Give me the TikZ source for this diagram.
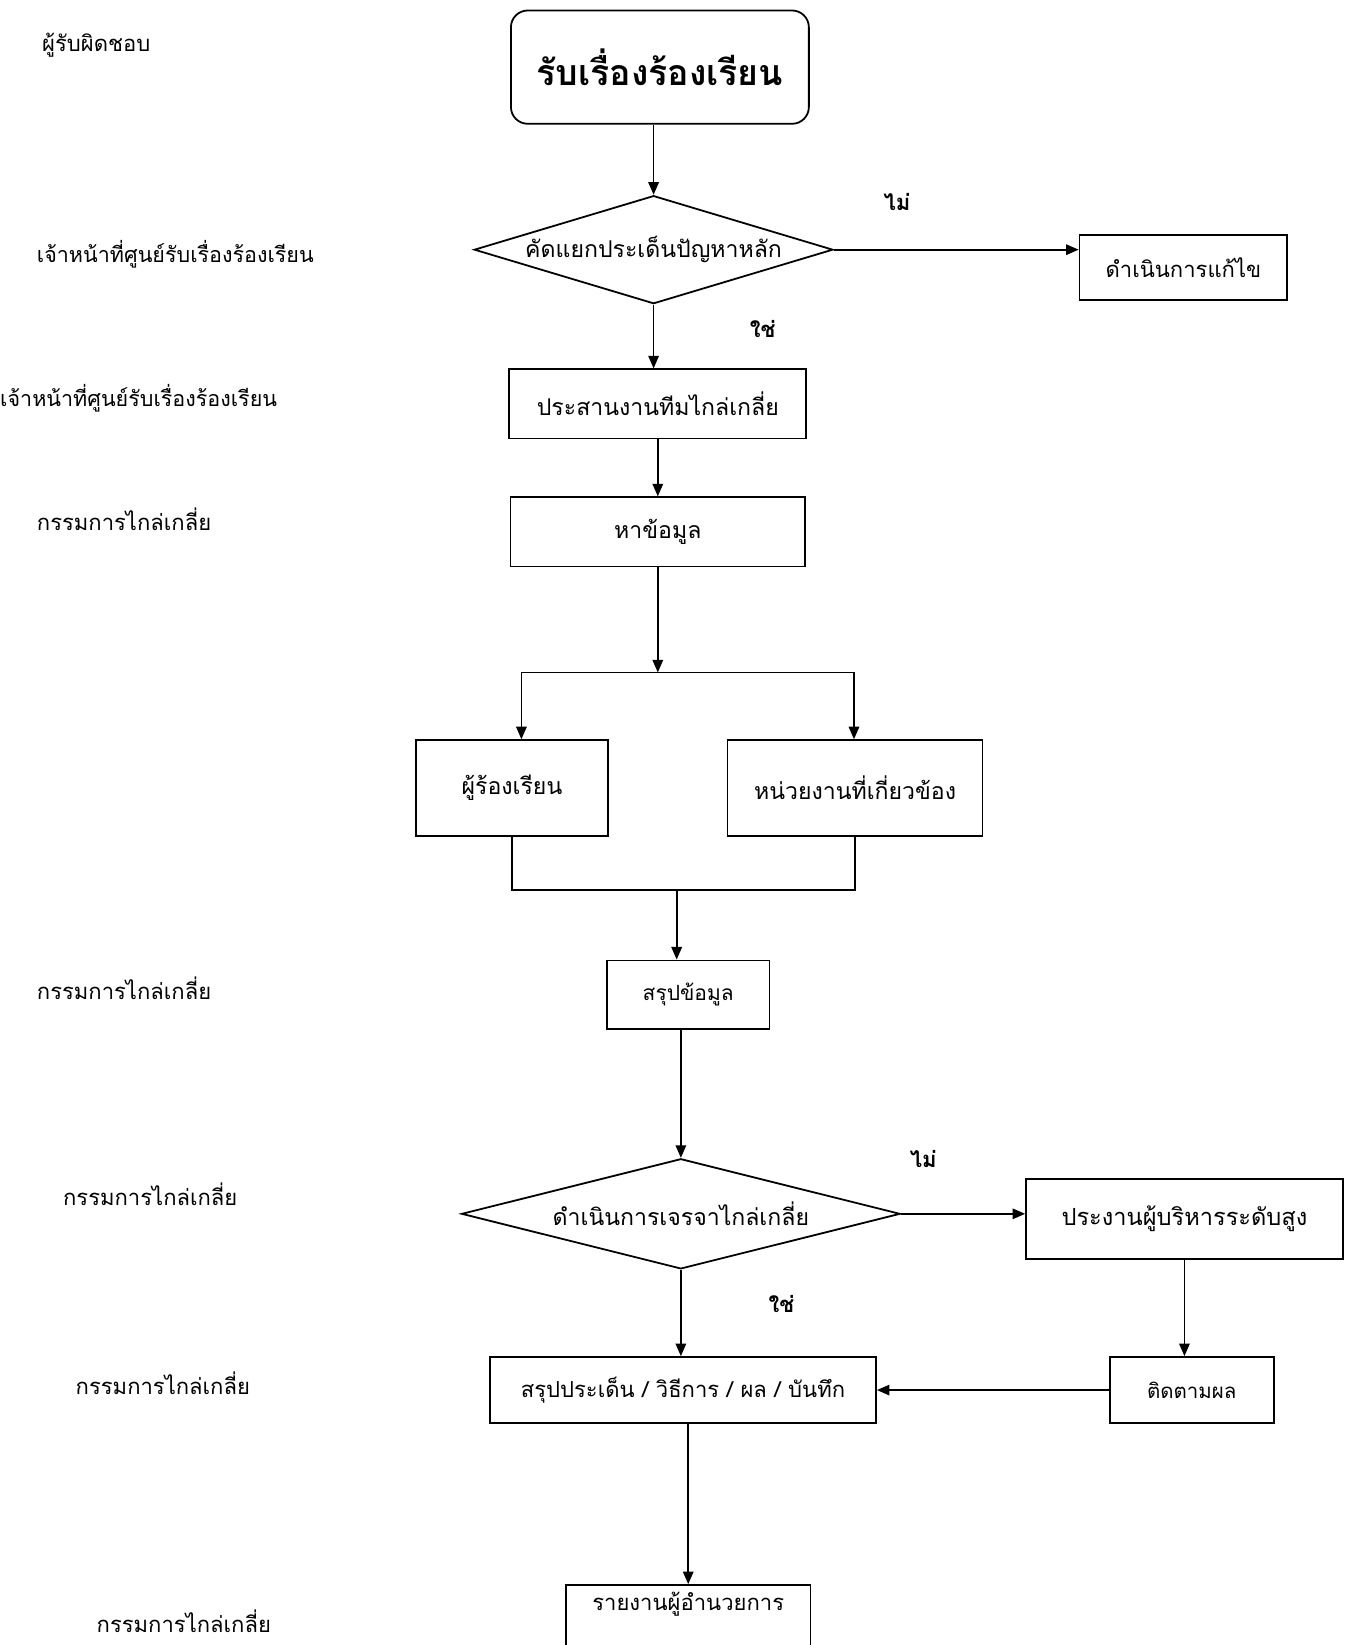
\documentclass[tikz,border=0pt]{standalone}
\usepackage{fontspec}
\setmainfont[Script=Thai]{Loma}
\usetikzlibrary{shapes.geometric,arrows.meta}
\newcommand{\myfs}[1]{\fontsize{#1}{#1}\selectfont}
\begin{document}
\begin{tikzpicture}[x=1pt,y=-1pt,
  box/.style={draw, line width=1.7pt, rectangle, inner sep=0pt, font=\myfs{22}},
  dia/.style={draw, line width=1.7pt, diamond, inner sep=0pt, font=\myfs{22}},
  arr/.style={line width=1.6pt, -{Triangle[length=12pt,width=10pt]}},
  ln/.style={line width=1.6pt},
  role/.style={anchor=west, inner sep=0pt, font=\myfs{21}},
  yn/.style={inner sep=0pt, font=\myfs{21}\bfseries},
]
\useasboundingbox (0,0) rectangle (1290,1568);
\clip (0,0) rectangle (1290,1568);
\fill[white] (0,0) rectangle (1290,1568);

% role labels
\node[role] (r1) at (40,43) {ผู้รับผิดชอบ};
\node[role, font=\myfs{20.5}] (r2) at (35,242) {เจ้าหน้าที่ศูนย์รับเรื่องร้องเรียน};
\node[role, font=\myfs{20.5}] (r3) at (0,380) {เจ้าหน้าที่ศูนย์รับเรื่องร้องเรียน};
\node[role] (r4) at (35,495) {กรรมการไกล่เกลี่ย};
\node[role] (r5) at (35,942) {กรรมการไกล่เกลี่ย};
\node[role] (r6) at (60,1138) {กรรมการไกล่เกลี่ย};
\node[role] (r7) at (72,1318) {กรรมการไกล่เกลี่ย};
\node[role] (r8) at (92,1545) {กรรมการไกล่เกลี่ย};

% flow nodes
\node[box, rounded corners=16pt, minimum width=284pt, minimum height=108pt, font=\myfs{34}\bfseries] (start) at (629,64) {รับเรื่องร้องเรียน};
\node[dia, minimum width=342pt, minimum height=103pt] (d1) at (623,238) {\makebox[0pt]{คัดแยกประเด็นปัญหาหลัก}};
\node[box, minimum width=198pt, minimum height=62pt, font=\myfs{21}] (fix) at (1128,255) {ดำเนินการแก้ไข};
\node[box, minimum width=283pt, minimum height=66pt] (coord) at (627,385) {ประสานงานทีมไกล่เกลี่ย};
\node[box, minimum width=281pt, minimum height=66pt] (info) at (627,507) {หาข้อมูล};
\node[box, minimum width=183pt, minimum height=91pt] (comp) at (488,751) {ผู้ร้องเรียน};
\node[box, minimum width=243pt, minimum height=91pt] (agency) at (815,751) {หน่วยงานที่เกี่ยวข้อง};
\node[box, minimum width=155pt, minimum height=65pt, font=\myfs{20}] (sum) at (656,948) {สรุปข้อมูล};
\node[dia, minimum width=418pt, minimum height=105pt] (d2) at (649,1157) {\makebox[0pt]{ดำเนินการเจรจาไกล่เกลี่ย}};
\node[box, minimum width=302pt, minimum height=76pt, font=\myfs{22.5}] (exec) at (1129,1162) {ประงานผู้บริหารระดับสูง};
\node[box, minimum width=368pt, minimum height=63pt, font=\myfs{21}] (rec) at (651,1325) {สรุปประเด็น / วิธีการ / ผล / บันทึก};
\node[box, minimum width=156pt, minimum height=63pt, font=\myfs{19.5}] (follow) at (1136,1325) {ติดตามผล};
\node[box, minimum width=233pt, minimum height=120pt, anchor=north] (rep) at (656,1510) {};
\node[inner sep=0pt, font=\myfs{21}] (reptext) at (656,1529) {รายงานผู้อำนวยการ};

% yes/no labels
\node[yn] (no1) at (855,193) {ไม่};
\node[yn] (yes1) at (727,314) {ใช่};
\node[yn] (no2) at (880,1105) {ไม่};
\node[yn] (yes2) at (745,1243) {ใช่};

% connectors
\draw[arr] (d1.north |- start.south) -- (d1.north);
\draw[arr] (d1.east) -- (d1.east -| fix.west);
\draw[arr] (d1.south) -- (d1.south |- coord.north);
\draw[arr] (coord.south) -- (info.north);
\coordinate (split) at (627,641);
\coordinate (sl) at (497,641);
\coordinate (sr) at (814,641);
\draw[arr] (info.south) -- (split);
\draw[ln] (sl) -- (sr);
\draw[arr] (sl) -- (sl |- comp.north);
\draw[arr] (sr) -- (sr |- agency.north);
\draw[ln] (comp.south) -- ++(0,51) -| (agency.south);
\coordinate (merge) at (645,848);
\draw[arr] (merge) -- (merge |- sum.north);
\draw[arr] (d2.north |- sum.south) -- (d2.north);
\draw[arr] (d2.east) -- (d2.east -| exec.west);
\draw[arr] (d2.south) -- (d2.south |- rec.north);
\draw[arr] (exec.south) -- (exec.south |- follow.north);
\draw[arr] (follow.west) -- (rec.east);
\draw[arr] (rep.north |- rec.south) -- (rep.north);
\end{tikzpicture}
\end{document}
